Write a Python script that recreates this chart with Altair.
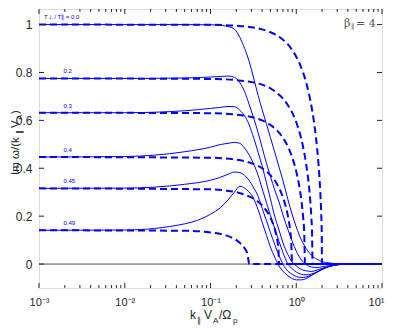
import altair as alt
import pandas as pd

# ---------------- data ----------------
k_grid = [0.001, 0.01, 0.05, 0.1, 0.13, 0.16, 0.19, 0.22, 0.25, 0.28, 0.32, 0.36, 0.40, 0.45, 0.50,
          0.56, 0.63, 0.70, 0.80, 0.90, 1.0, 1.15, 1.3, 1.5, 1.75, 2.0, 2.4, 3.0, 4.0, 6.0, 10.0]
solid_1 = [1.0, 1.0, 1.0, 0.999, 0.997, 0.992, 0.981, 0.946, 0.90, 0.85, 0.774, 0.703, 0.645, 0.584, 0.528,
           0.468, 0.405, 0.348, 0.269, 0.205, 0.155, 0.10, 0.066, 0.037, 0.02, 0.01, 0.005, 0.001, 0, 0, 0]
solid_2 = [0.775, 0.775, 0.777, 0.781, 0.783, 0.785, 0.78, 0.757, 0.72, 0.67, 0.608, 0.548, 0.487, 0.42, 0.366,
           0.31, 0.259, 0.205, 0.144, 0.094, 0.054, 0.017, -0.002, -0.012, -0.015, -0.011, -0.007, -0.002, 0, 0, 0]
solid_3 = [0.632, 0.632, 0.64, 0.65, 0.654, 0.658, 0.657, 0.642, 0.619, 0.585, 0.525, 0.466, 0.41, 0.338, 0.272,
           0.20, 0.142, 0.089, 0.039, 0.008, -0.008, -0.023, -0.028, -0.031, -0.025, -0.018, -0.01, -0.003, 0, 0, 0]
solid_4 = [0.447, 0.449, 0.469, 0.488, 0.499, 0.504, 0.508, 0.504, 0.484, 0.458, 0.416, 0.37, 0.315, 0.256, 0.203,
           0.15, 0.094, 0.048, 0.0, -0.02, -0.033, -0.043, -0.045, -0.042, -0.032, -0.023, -0.011, -0.003, 0, 0, 0]
solid_5 = [0.316, 0.317, 0.333, 0.35, 0.362, 0.375, 0.384, 0.382, 0.37, 0.351, 0.317, 0.282, 0.233, 0.18, 0.132,
           0.082, 0.035, -0.001, -0.03, -0.043, -0.052, -0.056, -0.054, -0.046, -0.034, -0.022, -0.011, -0.003, 0, 0, 0]
solid_6 = [0.141, 0.142, 0.168, 0.208, 0.235, 0.268, 0.30, 0.325, 0.317, 0.302, 0.272, 0.226, 0.175, 0.12, 0.071,
           0.029, -0.008, -0.03, -0.049, -0.061, -0.066, -0.066, -0.061, -0.048, -0.033, -0.022, -0.01, -0.003, 0, 0, 0]

d1_k = [0.001, 0.1, 0.2, 0.3, 0.4, 0.5, 0.6, 0.7, 0.8, 0.9, 1.0, 1.1, 1.2, 1.3, 1.4, 1.5, 1.6, 1.7, 1.8, 1.85, 1.9, 1.95, 1.98, 2.0, 10]
d1_v = [1.0, 0.999, 0.995, 0.989, 0.98, 0.968, 0.954, 0.937, 0.917, 0.893, 0.866, 0.835, 0.8, 0.76, 0.714, 0.661, 0.6, 0.527, 0.436, 0.38, 0.312, 0.222, 0.14, 0.0, 0.0]
d2_k = [0.001, 0.1, 0.2, 0.3, 0.4, 0.5, 0.6, 0.7, 0.8, 0.9, 1.0, 1.1, 1.2, 1.3, 1.4, 1.45, 1.5, 1.53, 1.55, 10]
d2_v = [0.775, 0.773, 0.768, 0.76, 0.749, 0.734, 0.714, 0.691, 0.663, 0.631, 0.592, 0.546, 0.49, 0.421, 0.332, 0.274, 0.195, 0.124, 0.0, 0.0]
d3_k = [0.001, 0.1, 0.2, 0.3, 0.4, 0.5, 0.6, 0.7, 0.8, 0.9, 1.0, 1.1, 1.15, 1.2, 1.24, 1.265, 10]
d3_v = [0.632, 0.63, 0.624, 0.614, 0.6, 0.581, 0.557, 0.527, 0.49, 0.444, 0.387, 0.312, 0.264, 0.2, 0.126, 0.0, 0.0]
d4_k = [0.001, 0.1, 0.2, 0.3, 0.4, 0.5, 0.6, 0.7, 0.75, 0.8, 0.85, 0.875, 0.894, 10]
d4_v = [0.447, 0.444, 0.436, 0.421, 0.4, 0.371, 0.332, 0.278, 0.243, 0.2, 0.139, 0.092, 0.0, 0.0]
d5_k = [0.001, 0.1, 0.15, 0.2, 0.25, 0.3, 0.35, 0.4, 0.45, 0.5, 0.55, 0.58, 0.6, 0.62, 0.632, 10]
d5_v = [0.316, 0.312, 0.307, 0.3, 0.29, 0.278, 0.263, 0.245, 0.222, 0.194, 0.156, 0.126, 0.1, 0.061, 0.0, 0.0]
d6_k = [0.001, 0.05, 0.1, 0.15, 0.2, 0.23, 0.25, 0.27, 0.283, 10]
d6_v = [0.141, 0.139, 0.132, 0.12, 0.1, 0.082, 0.066, 0.042, 0.0, 0.0]

levels = [1.0, 0.775, 0.632, 0.447, 0.316, 0.141]
label_texts = ["T⊥ / T∥ = 0.0", "0.2", "0.3", "0.4", "0.45", "0.49"]
label_k = [0.00114, 0.00193, 0.00193, 0.00193, 0.00193, 0.00193]

x_major = [0.001, 0.01, 0.1, 1, 10]
x_major_labels = ["10⁻³", "10⁻²", "10⁻¹", "10⁰", "10¹"]
y_ticks = [0, 0.2, 0.4, 0.6, 0.8, 1.0]

# ---------------- build tables ----------------
solid_series = [solid_1, solid_2, solid_3, solid_4, solid_5, solid_6]
rows = []
for i, vals in enumerate(solid_series):
    for k, v in zip(k_grid, vals):
        rows.append({"k": k, "v": v, "s": f"s{i}"})
solid_df = pd.DataFrame(rows)

rows = []
for i, (ks, vs) in enumerate([(d1_k, d1_v), (d2_k, d2_v), (d3_k, d3_v), (d4_k, d4_v), (d5_k, d5_v), (d6_k, d6_v)]):
    for k, v in zip(ks, vs):
        rows.append({"k": k, "v": v, "s": f"d{i}"})
dashed_df = pd.DataFrame(rows)

label_df = pd.DataFrame({"k": label_k, "v": [l + 0.03 for l in levels], "t": label_texts})

minor = [m * d for d in x_major[:-1] for m in range(2, 10)]
xmaj_df = pd.DataFrame({"k": x_major})
xmin_df = pd.DataFrame({"k": minor})
ytick_df = pd.DataFrame({"v": y_ticks})
zero_df = pd.DataFrame({"v": [0.0]})

W, H = 343, 279
BLUE = "#0000ff"
FRAME = "#262626"
FONT = "Liberation Sans"

label_expr = " : ".join(f"datum.value == {v} ? '{t}'" for v, t in zip(x_major, x_major_labels)) + " : ''"

xscale = alt.Scale(type="log", domain=[0.001, 10], nice=False)
yscale = alt.Scale(domain=[-0.1, 1.065], nice=False, zero=False)
xaxis = alt.Axis(values=x_major, labelExpr=label_expr, ticks=False, domain=False, grid=False, title=None,
                 labelFontSize=11, labelColor=FRAME, labelPadding=8, labelFont=FONT, labelFlush=False,
                 labelOffset={"condition": {"test": f"datum.value == {x_major[-1]}", "value": -6}, "value": 0})
yaxis = alt.Axis(values=y_ticks, format="~g", ticks=False, domain=False, grid=False, title=None,
                 labelFontSize=12, labelColor=FRAME, labelPadding=7, labelFont=FONT)
X = alt.X("k:Q", scale=xscale, axis=xaxis)
Y = alt.Y("v:Q", scale=yscale, axis=yaxis)

zero = alt.Chart(zero_df).mark_rule(color="#555555", strokeWidth=1).encode(y=Y)
solid = alt.Chart(solid_df).mark_line(color=BLUE, strokeWidth=1, interpolate="monotone", clip=True).encode(
    x=X, y=Y, detail="s:N")
dashed = alt.Chart(dashed_df).mark_line(color=BLUE, strokeWidth=2, strokeDash=[7, 4], interpolate="monotone",
                                        clip=True).encode(x=X, y=Y, detail="s:N")
labels = alt.Chart(label_df).mark_text(color=BLUE, fontSize=6, align="left", baseline="middle", font=FONT).encode(
    x=X, y=Y, text="t:N")

tick_layers = [
    alt.Chart(xmaj_df).mark_rule(color=FRAME).encode(x=X, y=alt.value(H), y2=alt.value(H - 5)),
    alt.Chart(xmaj_df).mark_rule(color=FRAME).encode(x=X, y=alt.value(0), y2=alt.value(5)),
    alt.Chart(xmin_df).mark_rule(color=FRAME).encode(x=X, y=alt.value(H), y2=alt.value(H - 3)),
    alt.Chart(xmin_df).mark_rule(color=FRAME).encode(x=X, y=alt.value(0), y2=alt.value(3)),
    alt.Chart(ytick_df).mark_rule(color=FRAME).encode(y=Y, x=alt.value(0), x2=alt.value(5)),
    alt.Chart(ytick_df).mark_rule(color=FRAME).encode(y=Y, x=alt.value(W), x2=alt.value(W - 5)),
]

one = pd.DataFrame({"a": [0]})


def txt(text, x, y, size, angle=0, color=FRAME, font=FONT):
    return alt.Chart(one).mark_text(text=text, fontSize=size, angle=angle, align="left", baseline="alphabetic",
                                    color=color, font=font).encode(x=alt.value(x), y=alt.value(y))


titles = [
    # y-axis title (rotated)
    txt("Im ω/(k", -20, 166, 11.5, 270),
    txt("∥", -17, 125, 8, 270),
    txt("V", -20, 119, 11.5, 270),
    txt("A", -17, 111, 8, 270),
    txt(")", -20, 105, 11.5, 270),
    # x-axis title
    txt("k", 151, 310, 12),
    txt("∥", 158, 314, 8),
    txt("V", 165, 310, 12),
    txt("A", 174, 314, 8),
    txt("/Ω", 180, 310, 12),
    txt("p", 194, 314, 8),
    # beta label
    txt("β", 305, 18, 11, 0, "#555555", "DejaVu Serif"),
    txt("∥", 312, 20, 7, 0, "#555555", "DejaVu Serif"),
    txt("= 4", 317, 18, 11, 0, "#555555", "DejaVu Serif"),
]

chart = alt.layer(zero, solid, dashed, labels, *tick_layers, *titles).properties(
    width=W, height=H,
    padding={"left": 31, "top": 1, "right": 9, "bottom": 38},
    autosize=alt.AutoSizeParams(type="none"),
).configure_view(stroke=FRAME, strokeWidth=1).configure(background="white")

chart.save("out.html", embed_options={"renderer": "svg", "actions": False})
